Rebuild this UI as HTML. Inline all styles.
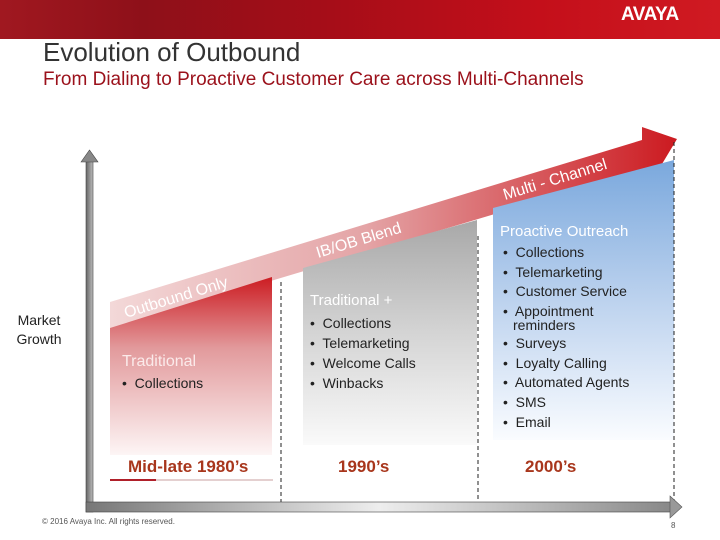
<!DOCTYPE html>
<html><head><meta charset="utf-8">
<style>
body{margin:0;width:720px;height:540px;overflow:hidden;background:#fff;font-family:"Liberation Sans",Arial,sans-serif;position:relative}
.t{position:absolute;white-space:nowrap}
</style></head><body>
<div style="position:absolute;left:0;top:0;width:720px;height:39px;background:linear-gradient(90deg,#a01820,#8e1019 20%,#a50d18 45%,#c40f1a 75%,#d01a22)"></div>
<div class="t" style="left:621px;top:4px;color:#fff;font-weight:bold;font-size:19px;letter-spacing:-0.5px">AVAYA</div>
<div class="t" style="left:43px;top:37px;font-size:26px;color:#333">Evolution of Outbound</div>
<div class="t" style="left:43px;top:69px;font-size:19px;color:#9b111b">From Dialing to Proactive Customer Care across Multi-Channels</div>

<svg width="720" height="540" style="position:absolute;left:0;top:0">
<defs>
<linearGradient id="rib" x1="0" x2="1" y1="0" y2="0"><stop offset="0" stop-color="#f3d8d8"/><stop offset="0.45" stop-color="#e4a4a6"/><stop offset="1" stop-color="#cc1a20"/></linearGradient>
<linearGradient id="red" x1="0" x2="0" y1="0" y2="1"><stop offset="0" stop-color="#cc1c22"/><stop offset="0.4" stop-color="#e29a9c"/><stop offset="1" stop-color="#fdf5f5"/></linearGradient>
<linearGradient id="gray" x1="0" x2="0" y1="0" y2="1"><stop offset="0" stop-color="#a8a8a8"/><stop offset="0.5" stop-color="#d4d4d4"/><stop offset="1" stop-color="#fafafa"/></linearGradient>
<linearGradient id="blue" x1="0" x2="0" y1="0" y2="1"><stop offset="0" stop-color="#7aa8dd"/><stop offset="0.5" stop-color="#bcd2ee"/><stop offset="1" stop-color="#fafcff"/></linearGradient>
<linearGradient id="ax" x1="0" x2="1" y1="0" y2="0"><stop offset="0" stop-color="#777"/><stop offset="0.5" stop-color="#eee"/><stop offset="1" stop-color="#888"/></linearGradient>
<linearGradient id="ay" x1="0" x2="1" y1="0" y2="0"><stop offset="0" stop-color="#666"/><stop offset="1" stop-color="#bbb"/></linearGradient>
</defs>
<polygon points="110,302 642,140 642,127 677,139 662,164 110,329" fill="url(#rib)"/>
<polygon points="110,328 272,277 272,455 110,455" fill="url(#red)"/>
<polygon points="303,268 477,220 477,445 303,445" fill="url(#gray)"/>
<polygon points="493,208 674,160 674,440 493,440" fill="url(#blue)"/>
<g stroke="#222" stroke-width="1" stroke-dasharray="4,3">
<line x1="281" y1="282" x2="281" y2="510"/>
<line x1="478" y1="236" x2="478" y2="510"/>
<line x1="674" y1="142" x2="674" y2="505"/>
</g>
<line x1="110" y1="480" x2="273" y2="480" stroke="#c9a0a0" stroke-width="1"/>
<line x1="110" y1="480" x2="156" y2="480" stroke="#b0202a" stroke-width="2"/>
<g><rect x="86" y="160" width="7" height="352" fill="url(#ay)" stroke="#444" stroke-width="0.6"/><polygon points="81,162 89.5,150 98,162" fill="#888" stroke="#444" stroke-width="0.6"/></g>
<g><rect x="86" y="502" width="586" height="10" fill="url(#ax)" stroke="#444" stroke-width="0.6"/><polygon points="670,496 682,507 670,518" fill="#999" stroke="#555" stroke-width="0.6"/></g>
<g fill="#fff" font-family="Liberation Sans, Arial, sans-serif" font-size="16">
<text transform="translate(126,318) rotate(-17)">Outbound Only</text>
<text transform="translate(318,258) rotate(-17)">IB/OB Blend</text>
<text transform="translate(505,200) rotate(-17)">Multi - Channel</text>
</g>
</svg>

<div class="t" style="left:8px;top:311px;width:62px;text-align:center;font-size:14px;color:#222;line-height:19px">Market<br>Growth</div>

<div class="t" style="left:122px;top:353px;font-size:16px;color:#fbeaea">Traditional</div>
<div class="t" style="left:122px;top:375px;font-size:14px;color:#222">•&nbsp; Collections</div>

<div class="t" style="left:310px;top:292px;font-size:15px;color:#fff">Traditional +</div>
<div style="position:absolute;left:310px;top:313px;font-size:14px;color:#222;line-height:20px;white-space:nowrap">•&nbsp; Collections<br>•&nbsp; Telemarketing<br>•&nbsp; Welcome Calls<br>•&nbsp; Winbacks</div>

<div class="t" style="left:500px;top:223px;font-size:15px;color:#fff">Proactive Outreach</div>
<div style="position:absolute;left:503px;top:243px;font-size:14px;color:#222;line-height:19.7px;white-space:nowrap">•&nbsp; Collections<br>•&nbsp; Telemarketing<br>•&nbsp; Customer Service<br>•&nbsp; Appointment<br><span style="display:block;margin-left:10px;line-height:14px;margin-top:-4px;margin-bottom:2px">reminders</span>•&nbsp; Surveys<br>•&nbsp; Loyalty Calling<br>•&nbsp; Automated Agents<br>•&nbsp; SMS<br>•&nbsp; Email</div>

<div class="t" style="left:128px;top:457px;font-size:17px;font-weight:bold;color:#a8361c">Mid-late 1980’s</div>
<div class="t" style="left:338px;top:457px;font-size:17px;font-weight:bold;color:#a8361c">1990’s</div>
<div class="t" style="left:525px;top:457px;font-size:17px;font-weight:bold;color:#a8361c">2000’s</div>

<div class="t" style="left:42px;top:517px;font-size:8px;color:#555">© 2016 Avaya Inc. All rights reserved.</div>
<div class="t" style="left:671px;top:521px;font-size:8px;color:#555">8</div>
</body></html>
